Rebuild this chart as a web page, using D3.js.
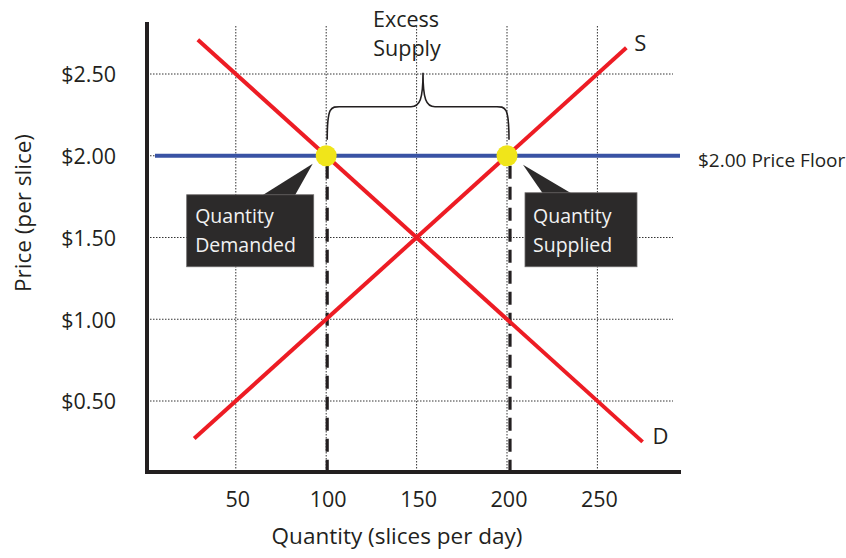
<!DOCTYPE html>
<html>
<head>
<meta charset="utf-8">
<script src="https://cdn.jsdelivr.net/npm/d3@7"></script>
<style>
  html, body { margin: 0; padding: 0; background: #ffffff; }
  svg { display: block; }
  text { font-family: "Open Sans", "Noto Sans", sans-serif; fill: #231f20; }
</style>
</head>
<body>
<svg id="chart" width="846" height="558"></svg>
<script>
// Price floor market for pizza slices
const quantityTicks = [50, 100, 150, 200, 250];
const priceTicks = [0.5, 1.0, 1.5, 2.0, 2.5];

// Supply curve endpoints (quantity, price)
const supplyQ = [27, 266];
const supplyP = [0.27, 2.66];
// Demand curve endpoints (quantity, price)
const demandQ = [29, 275];
const demandP = [2.71, 0.25];

const priceFloor = 2.0;
const quantityDemanded = 100;
const quantitySupplied = 200;

const svg = d3.select("#chart");

const x = d3.scaleLinear().domain([0, 300]).range([145.4, 145.4 + 542.4]);
const y = d3.scaleLinear().domain([0, 3]).range([482.75, 482.75 - 490.5]);

const axisY = 472;   // position of the quantity axis line
const axisX = 147;   // position of the price axis line
const ink = "#231f20";

// dotted grid
const grid = svg.append("g");
grid.selectAll("line.v").data(quantityTicks).join("line")
  .attr("x1", d => x(d)).attr("x2", d => x(d))
  .attr("y1", 26).attr("y2", axisY - 2)
  .attr("stroke", "#333").attr("stroke-width", 1)
  .attr("stroke-dasharray", "1.5,1.5");
grid.selectAll("line.h").data(priceTicks).join("line")
  .attr("x1", axisX + 3).attr("x2", 673)
  .attr("y1", d => y(d)).attr("y2", d => y(d))
  .attr("stroke", "#333").attr("stroke-width", 1)
  .attr("stroke-dasharray", "1.5,1.5");

// axes with labels
const xAxis = d3.axisBottom(x).tickValues(quantityTicks).tickSize(0).tickPadding(20);
const gx = svg.append("g").attr("transform", `translate(1.5,${axisY})`).call(xAxis);
gx.select(".domain").remove();
gx.selectAll("text").attr("font-size", 21.5).attr("fill", ink)
  .attr("font-family", "'Open Sans', sans-serif");

const yAxis = d3.axisLeft(y).tickValues(priceTicks).tickSize(0).tickPadding(31)
  .tickFormat(d3.format("$.2f"));
const gy = svg.append("g").attr("transform", `translate(${axisX},1)`).call(yAxis);
gy.select(".domain").remove();
gy.selectAll("text").attr("font-size", 21.5).attr("fill", ink)
  .attr("font-family", "'Open Sans', sans-serif");

// heavy axis lines
svg.append("line").attr("x1", axisX).attr("x2", axisX).attr("y1", 22).attr("y2", axisY + 2)
  .attr("stroke", ink).attr("stroke-width", 4);
svg.append("line").attr("x1", axisX - 2).attr("x2", 681).attr("y1", axisY).attr("y2", axisY)
  .attr("stroke", ink).attr("stroke-width", 4);

// axis titles
svg.append("text").attr("x", 397).attr("y", 544).attr("text-anchor", "middle")
  .attr("font-size", 22.5).text("Quantity (slices per day)");
svg.append("text").attr("transform", "translate(31,213) rotate(-90)")
  .attr("text-anchor", "middle").attr("font-size", 22.5).text("Price (per slice)");

// dashed drop lines from the floor to the quantity axis
svg.selectAll("line.drop").data([quantityDemanded, quantitySupplied]).join("line")
  .attr("x1", d => x(d) + 1 + (d - 100) * 0.02).attr("x2", d => x(d) + 1 + (d - 100) * 0.02)
  .attr("y1", y(priceFloor) + 10).attr("y2", axisY - 2)
  .attr("stroke", ink).attr("stroke-width", 3.2)
  .attr("stroke-dasharray", "13,8");

// supply and demand curves
const line = d3.line().x(d => x(d[0])).y(d => y(d[1]));
const red = "#ed1c24";
svg.append("path").attr("d", line(d3.zip(supplyQ, supplyP)))
  .attr("stroke", red).attr("stroke-width", 4).attr("fill", "none");
svg.append("path").attr("d", line(d3.zip(demandQ, demandP)))
  .attr("stroke", red).attr("stroke-width", 4).attr("fill", "none");

// price floor
svg.append("line").attr("x1", 155).attr("x2", 680)
  .attr("y1", y(priceFloor)).attr("y2", y(priceFloor))
  .attr("stroke", "#3953a4").attr("stroke-width", 4);
svg.append("text").attr("x", 698).attr("y", y(priceFloor) + 11)
  .attr("font-size", 19).text("$2.00 Price Floor");

// curve labels
svg.append("text").attr("x", x(supplyQ[1]) + 8).attr("y", y(supplyP[1]) + 3)
  .attr("font-size", 22).text("S");
svg.append("text").attr("x", x(demandQ[1]) + 10).attr("y", y(demandP[1]) + 2)
  .attr("font-size", 22).text("D");

// excess supply brace
const xL = x(quantityDemanded) + 1, xR = x(quantitySupplied) + 2;
const xM = 423, yF = y(priceFloor);
const yB = yF - 16, yH = yF - 49, yP = yF - 83;
svg.append("path")
  .attr("d", `M${xL},${yB} C${xL},${yH - 3} ${xL + 4},${yH} ${xL + 16},${yH}
              L${xM - 12},${yH} C${xM - 3},${yH} ${xM},${yH - 8} ${xM},${yP}
              C${xM},${yH - 8} ${xM + 3},${yH} ${xM + 12},${yH}
              L${xR - 16},${yH} C${xR - 4},${yH} ${xR},${yH - 3} ${xR},${yB}`)
  .attr("fill", "none").attr("stroke", ink).attr("stroke-width", 1.6);
svg.append("text").attr("x", 406).attr("y", 27).attr("text-anchor", "middle")
  .attr("font-size", 21.5).text("Excess");
svg.append("text").attr("x", 407).attr("y", 56).attr("text-anchor", "middle")
  .attr("font-size", 21.5).text("Supply");

// callouts
const boxFill = "#2c2a2a";
function callout(q, box, tip, base, lines, tx) {
  const px = x(q), py = y(priceFloor);
  svg.append("path")
    .attr("d", `M${px + tip[0]},${py + tip[1]} L${px + base[0]},${py + box[1] + 1} L${px + base[1]},${py + box[1] + 1} Z`)
    .attr("fill", boxFill);
  svg.append("rect").attr("x", px + box[0]).attr("y", py + box[1])
    .attr("width", box[2]).attr("height", box[3])
    .attr("fill", boxFill).attr("stroke", "#6b6969").attr("stroke-width", 0.8);
  lines.forEach((t, i) => {
    svg.append("text").attr("x", px + tx).attr("y", py + 67 + i * 29)
      .attr("font-size", 19.5).style("fill", "#f2f2f2").text(t);
  });
}
callout(quantityDemanded, [-139.5, 39, 127, 72], [-13.5, 8], [-64.5, -31.5],
        ["Quantity", "Demanded"], -131);
callout(quantitySupplied, [18, 37, 112, 74], [16, 9], [36, 65],
        ["Quantity", "Supplied"], 26);

// equilibrium points at the floor
svg.selectAll("circle.pt").data([quantityDemanded, quantitySupplied]).join("circle")
  .attr("cx", d => x(d)).attr("cy", y(priceFloor)).attr("r", 10.5)
  .attr("fill", "#f0e51a");
</script>
</body>
</html>
